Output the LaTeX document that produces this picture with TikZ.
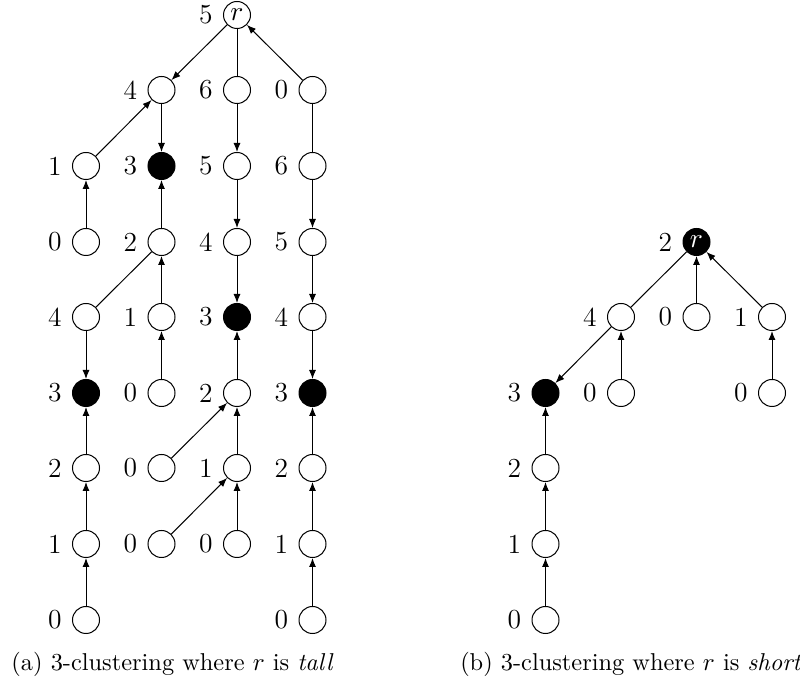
\documentclass[tikz,border=0pt]{standalone}
\usetikzlibrary{arrows.meta}
\tikzset{
  v/.style={circle, draw, minimum size=10.8pt, inner sep=0pt, line width=0.4pt, font=\fontsize{11}{13}\selectfont},
  bv/.style={v, fill=black, text=white},
  every label/.style={font=\fontsize{11}{13}\selectfont},
  ar/.style={-{Latex[length=3.6pt,width=2.8pt]}, line width=0.4pt},
  pl/.style={line width=0.4pt},
  captext/.style={anchor=base, inner sep=0pt, font=\fontsize{9.75}{12}\selectfont},
}
\begin{document}
\begin{tikzpicture}[x=0.4pt, y=-0.4pt, label distance=0.6pt]
\useasboundingbox (0,0) rectangle (800,684);
% ---------- (a) ----------
\node[v, label=left:5] (ar) at (237,15) {$r$};
\node[v, label=left:4] (a11) at (161.5,90) {};
\node[v, label=left:6] (a12) at (237,90) {};
\node[v, label=left:0] (a13) at (312.5,90) {};
\node[v, label=left:1] (a21) at (86,166) {};
\node[bv, label=left:3] (a22) at (161.5,166) {};
\node[v, label=left:5] (a23) at (237,166) {};
\node[v, label=left:6] (a24) at (312.5,166) {};
\node[v, label=left:0] (a31) at (86,242) {};
\node[v, label=left:2] (a32) at (161.5,242) {};
\node[v, label=left:4] (a33) at (237,242) {};
\node[v, label=left:5] (a34) at (312.5,242) {};
\node[v, label=left:4] (a41) at (86,317) {};
\node[v, label=left:1] (a42) at (161.5,317) {};
\node[bv, label=left:3] (a43) at (237,317) {};
\node[v, label=left:4] (a44) at (312.5,317) {};
\node[bv, label=left:3] (a51) at (86,393) {};
\node[v, label=left:0] (a52) at (161.5,393) {};
\node[v, label=left:2] (a53) at (237,393) {};
\node[bv, label=left:3] (a54) at (312.5,393) {};
\node[v, label=left:2] (a61) at (86,468) {};
\node[v, label=left:0] (a62) at (161.5,468) {};
\node[v, label=left:1] (a63) at (237,468) {};
\node[v, label=left:2] (a64) at (312.5,468) {};
\node[v, label=left:1] (a71) at (86,544) {};
\node[v, label=left:0] (a72) at (161.5,544) {};
\node[v, label=left:0] (a73) at (237,544) {};
\node[v, label=left:1] (a74) at (312.5,544) {};
\node[v, label=left:0] (a81) at (86,620) {};
\node[v, label=left:0] (a84) at (312.5,620) {};
\draw[ar] (ar) -- (a11);
\draw[pl] (ar) -- (a12);
\draw[ar] (a13) -- (ar);
\draw[ar] (a21) -- (a11);
\draw[ar] (a11) -- (a22);
\draw[ar] (a12) -- (a23);
\draw[pl] (a13) -- (a24);
\draw[ar] (a24) -- (a34);
\draw[ar] (a31) -- (a21);
\draw[ar] (a32) -- (a22);
\draw[ar] (a23) -- (a33);
\draw[pl] (a32) -- (a41);
\draw[ar] (a42) -- (a32);
\draw[ar] (a33) -- (a43);
\draw[ar] (a34) -- (a44);
\draw[ar] (a41) -- (a51);
\draw[ar] (a52) -- (a42);
\draw[ar] (a53) -- (a43);
\draw[ar] (a44) -- (a54);
\draw[ar] (a61) -- (a51);
\draw[ar] (a62) -- (a53);
\draw[ar] (a63) -- (a53);
\draw[ar] (a64) -- (a54);
\draw[ar] (a71) -- (a61);
\draw[ar] (a72) -- (a63);
\draw[ar] (a73) -- (a63);
\draw[ar] (a74) -- (a64);
\draw[ar] (a81) -- (a71);
\draw[ar] (a84) -- (a74);
\node[captext] (capa) at (172.5,671) {(a) 3-clustering where $r$ is \textit{tall}};
% ---------- (b) ----------
\node[bv, label=left:2] (br) at (696.5,242) {$r$};
\node[v, label=left:4] (b11) at (621,317) {};
\node[v, label=left:0] (b12) at (696.5,317) {};
\node[v, label=left:1] (b13) at (772,317) {};
\node[bv, label=left:3] (b21) at (545.5,393) {};
\node[v, label=left:0] (b22) at (621,393) {};
\node[v, label=left:0] (b23) at (772,393) {};
\node[v, label=left:2] (b31) at (545.5,468) {};
\node[v, label=left:1] (b41) at (545.5,544) {};
\node[v, label=left:0] (b51) at (545.5,620) {};
\draw[pl] (br) -- (b11);
\draw[ar] (b12) -- (br);
\draw[ar] (b13) -- (br);
\draw[ar] (b11) -- (b21);
\draw[ar] (b22) -- (b11);
\draw[ar] (b23) -- (b13);
\draw[ar] (b31) -- (b21);
\draw[ar] (b41) -- (b31);
\draw[ar] (b51) -- (b41);
\node[captext] (capb) at (631,671) {(b) 3-clustering where $r$ is \textit{short}};
\end{tikzpicture}
\end{document}
